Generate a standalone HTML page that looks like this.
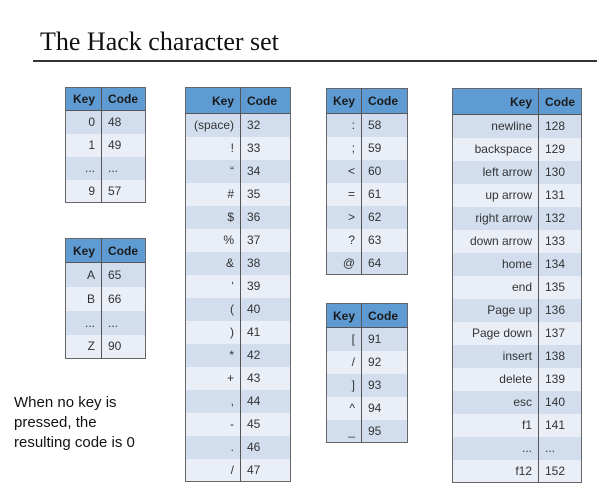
<!DOCTYPE html>
<html><head><meta charset="utf-8"><style>
body{margin:0;width:597px;height:498px;background:#fff;position:relative;overflow:hidden;font-family:"Liberation Sans",sans-serif}
.t{position:absolute;border-collapse:collapse;font-size:12px;color:#333;table-layout:fixed;border:1.5px solid #666}
.t td,.t th{padding:0 6px;border-left:1.5px solid #555;white-space:nowrap;overflow:hidden}
.t th{background:#5f9bd3;color:#1a1a1a;font-weight:bold;border-bottom:1.5px solid #555}
.t td:first-child,.t th:first-child{text-align:right;border-left:none}
.t td:last-child,.t th:last-child{text-align:left}
.t tr:nth-child(even) td{background:#d2deee}
.t tr:nth-child(odd) td{background:#e9eef7}
</style></head><body>
<div style="position:absolute;left:40px;top:27px;font-family:'Liberation Serif',serif;font-size:26px;color:#111">The Hack character set</div>
<div style="position:absolute;left:33px;top:60px;width:564px;height:2px;background:#333"></div>

<table class="t" style="left:65px;top:87px;width:81px"><col style="width:36px"><col>
<tr style="height:23px"><th>Key</th><th>Code</th></tr>
<tr style="height:23px"><td>0</td><td>48</td></tr>
<tr style="height:23px"><td>1</td><td>49</td></tr>
<tr style="height:23px"><td>...</td><td>...</td></tr>
<tr style="height:23px"><td>9</td><td>57</td></tr></table>

<table class="t" style="left:65px;top:238px;width:81px"><col style="width:36px"><col>
<tr style="height:24px"><th>Key</th><th>Code</th></tr>
<tr style="height:24px"><td>A</td><td>65</td></tr>
<tr style="height:24px"><td>B</td><td>66</td></tr>
<tr style="height:24px"><td>...</td><td>...</td></tr>
<tr style="height:24px"><td>Z</td><td>90</td></tr></table>

<table class="t" style="left:185px;top:87px;width:106px"><col style="width:55px"><col>
<tr style="height:26px"><th>Key</th><th>Code</th></tr>
<tr style="height:23px"><td>(space)</td><td>32</td></tr>
<tr style="height:23px"><td>!</td><td>33</td></tr>
<tr style="height:23px"><td>“</td><td>34</td></tr>
<tr style="height:23px"><td>#</td><td>35</td></tr>
<tr style="height:23px"><td>$</td><td>36</td></tr>
<tr style="height:23px"><td>%</td><td>37</td></tr>
<tr style="height:23px"><td>&amp;</td><td>38</td></tr>
<tr style="height:23px"><td>‘</td><td>39</td></tr>
<tr style="height:23px"><td>(</td><td>40</td></tr>
<tr style="height:23px"><td>)</td><td>41</td></tr>
<tr style="height:23px"><td>*</td><td>42</td></tr>
<tr style="height:23px"><td>+</td><td>43</td></tr>
<tr style="height:23px"><td>,</td><td>44</td></tr>
<tr style="height:23px"><td>-</td><td>45</td></tr>
<tr style="height:23px"><td>.</td><td>46</td></tr>
<tr style="height:23px"><td>/</td><td>47</td></tr></table>

<table class="t" style="left:326px;top:88px;width:82px"><col style="width:35px"><col>
<tr style="height:25px"><th>Key</th><th>Code</th></tr>
<tr style="height:23px"><td>:</td><td>58</td></tr>
<tr style="height:23px"><td>;</td><td>59</td></tr>
<tr style="height:23px"><td>&lt;</td><td>60</td></tr>
<tr style="height:23px"><td>=</td><td>61</td></tr>
<tr style="height:23px"><td>&gt;</td><td>62</td></tr>
<tr style="height:23px"><td>?</td><td>63</td></tr>
<tr style="height:23px"><td>@</td><td>64</td></tr></table>

<table class="t" style="left:326px;top:303px;width:82px"><col style="width:35px"><col>
<tr style="height:24px"><th>Key</th><th>Code</th></tr>
<tr style="height:23px"><td>[</td><td>91</td></tr>
<tr style="height:23px"><td>/</td><td>92</td></tr>
<tr style="height:23px"><td>]</td><td>93</td></tr>
<tr style="height:23px"><td>^</td><td>94</td></tr>
<tr style="height:23px"><td>_</td><td>95</td></tr></table>

<table class="t" style="left:452px;top:88px;width:130px"><col style="width:86px"><col>
<tr style="height:26px"><th>Key</th><th>Code</th></tr>
<tr style="height:23px"><td>newline</td><td>128</td></tr>
<tr style="height:23px"><td>backspace</td><td>129</td></tr>
<tr style="height:23px"><td>left arrow</td><td>130</td></tr>
<tr style="height:23px"><td>up arrow</td><td>131</td></tr>
<tr style="height:23px"><td>right arrow</td><td>132</td></tr>
<tr style="height:23px"><td>down arrow</td><td>133</td></tr>
<tr style="height:23px"><td>home</td><td>134</td></tr>
<tr style="height:23px"><td>end</td><td>135</td></tr>
<tr style="height:23px"><td>Page up</td><td>136</td></tr>
<tr style="height:23px"><td>Page down</td><td>137</td></tr>
<tr style="height:23px"><td>insert</td><td>138</td></tr>
<tr style="height:23px"><td>delete</td><td>139</td></tr>
<tr style="height:23px"><td>esc</td><td>140</td></tr>
<tr style="height:23px"><td>f1</td><td>141</td></tr>
<tr style="height:23px"><td>...</td><td>...</td></tr>
<tr style="height:23px"><td>f12</td><td>152</td></tr></table>

<div style="position:absolute;left:14px;top:393px;font-size:15px;line-height:20px;color:#111">When no key is<br>pressed, the<br>resulting code is 0</div>
</body></html>
